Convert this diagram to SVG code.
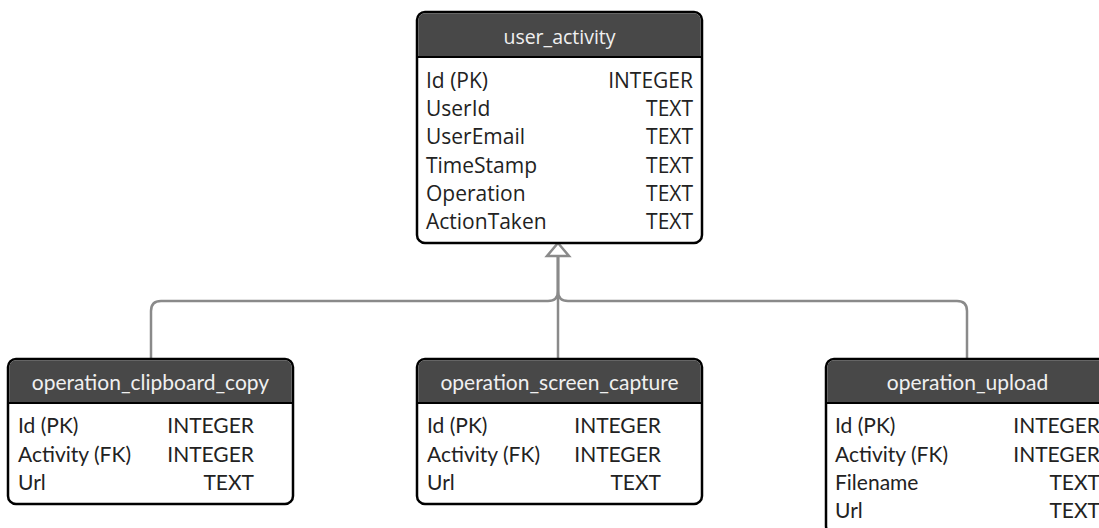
<svg xmlns="http://www.w3.org/2000/svg" width="1099" height="528" viewBox="0 0 1099 528">
<defs>
<style>
.box{fill:#fff;stroke:#000;stroke-width:2.5}
.hdr{fill:#484848}
.ttl{fill:#f0f0f0;text-anchor:middle;font-size:20.5px}
.os{font-family:"Open Sans","Noto Sans",sans-serif;font-size:21px}
.la{font-family:Lato,"Open Sans",sans-serif;font-size:21px}
.f{fill:#222}
.r{text-anchor:end}
.con{fill:none;stroke:#8a8a8a;stroke-width:2.5}
</style>
</defs>
<rect width="1099" height="528" fill="#fff"/>
<g id="connectors">
<path class="con" d="M151,359 V311 Q151,301 161,301 H548 Q558,301 558,291 V256"/>
<path class="con" d="M967,359 V311 Q967,301 957,301 H568 Q558,301 558,291 V256"/>
<path class="con" d="M558,359 V256"/>
<path d="M558,243 L569,256 L547,256 Z" fill="#fff" stroke="#8a8a8a" stroke-width="2.5" stroke-linejoin="miter"/>
</g>
<g id="user_activity">
<rect class="box" x="417" y="12" width="285" height="231" rx="8"/>
<path class="hdr" d="M425,13.25 H694 A6.75,6.75 0 0 1 700.75,20 V57 H418.25 V20 A6.75,6.75 0 0 1 425,13.25 Z"/>
<line x1="418" y1="57" x2="701" y2="57" stroke="#000" stroke-width="2"/>
<text class="os ttl" x="559.5" y="44" style="font-size:19.5px">user_activity</text>
<g class="os f">
<text x="426" y="88">Id (PK)</text><text class="r" x="693" y="88">INTEGER</text>
<text x="426" y="116.2">UserId</text><text class="r" x="693" y="116.2">TEXT</text>
<text x="426" y="144.4">UserEmail</text><text class="r" x="693" y="144.4">TEXT</text>
<text x="426" y="172.6">TimeStamp</text><text class="r" x="693" y="172.6">TEXT</text>
<text x="426" y="200.8">Operation</text><text class="r" x="693" y="200.8">TEXT</text>
<text x="426" y="229">ActionTaken</text><text class="r" x="693" y="229">TEXT</text>
</g>
</g>
<g id="operation_clipboard_copy">
<rect class="box" x="8" y="359" width="285" height="145" rx="8"/>
<path class="hdr" d="M16,360.25 H285 A6.75,6.75 0 0 1 291.75,367 V403 H9.25 V367 A6.75,6.75 0 0 1 16,360.25 Z"/>
<line x1="9" y1="403" x2="292" y2="403" stroke="#000" stroke-width="2"/>
<text class="la ttl" x="150.5" y="390">operation_clipboard_copy</text>
<g class="la f">
<text x="18" y="433">Id (PK)</text><text class="r" x="254" y="433">INTEGER</text>
<text x="18" y="462">Activity (FK)</text><text class="r" x="254" y="462">INTEGER</text>
<text x="18" y="490">Url</text><text class="r" x="254" y="490">TEXT</text>
</g>
</g>
<g id="operation_screen_capture">
<rect class="box" x="417" y="359" width="285" height="145" rx="8"/>
<path class="hdr" d="M425,360.25 H694 A6.75,6.75 0 0 1 700.75,367 V403 H418.25 V367 A6.75,6.75 0 0 1 425,360.25 Z"/>
<line x1="418" y1="403" x2="701" y2="403" stroke="#000" stroke-width="2"/>
<text class="la ttl" x="559.5" y="390">operation_screen_capture</text>
<g class="la f">
<text x="427" y="433">Id (PK)</text><text class="r" x="661" y="433">INTEGER</text>
<text x="427" y="462">Activity (FK)</text><text class="r" x="661" y="462">INTEGER</text>
<text x="427" y="490">Url</text><text class="r" x="661" y="490">TEXT</text>
</g>
</g>
<g id="operation_upload">
<rect class="box" x="826" y="359" width="283" height="175" rx="8"/>
<path class="hdr" d="M834,360.25 H1101 A6.75,6.75 0 0 1 1107.75,367 V403 H827.25 V367 A6.75,6.75 0 0 1 834,360.25 Z"/>
<line x1="827" y1="403" x2="1108" y2="403" stroke="#000" stroke-width="2"/>
<text class="la ttl" x="967.5" y="390">operation_upload</text>
<g class="la f">
<text x="835" y="433">Id (PK)</text><text class="r" x="1100" y="433">INTEGER</text>
<text x="835" y="462">Activity (FK)</text><text class="r" x="1100" y="462">INTEGER</text>
<text x="835" y="490">Filename</text><text class="r" x="1100" y="490">TEXT</text>
<text x="835" y="518">Url</text><text class="r" x="1100" y="518">TEXT</text>
</g>
</g>
</svg>
